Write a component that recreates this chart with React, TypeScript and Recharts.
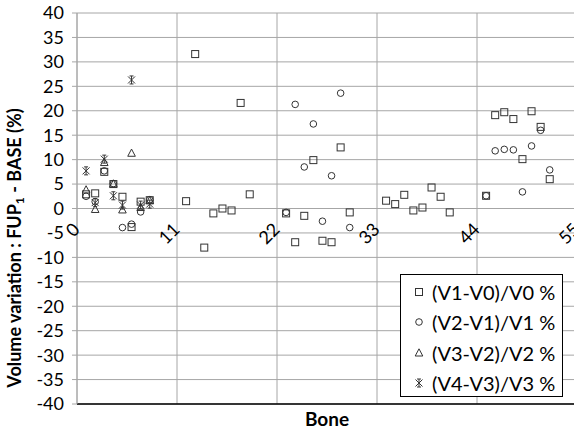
import React from 'react';
import { ScatterChart, Scatter, XAxis, YAxis, CartesianGrid } from 'recharts';

// ---------- data ----------
const xTicks = [0, 11, 22, 33, 44, 55];
const yTicks = [-40, -35, -30, -25, -20, -15, -10, -5, 0, 5, 10, 15, 20, 25, 30, 35, 40];

const seriesNames = ['(V1-V0)/V0 %', '(V2-V1)/V1 %', '(V3-V2)/V2 %', '(V4-V3)/V3 %'];

const s1Bones = [1, 2, 3, 4, 5, 6, 7, 8, 12, 13, 14, 15, 16, 17, 18, 19, 23, 24, 25, 26, 27, 28, 29, 30, 34, 35, 36, 37, 38, 39, 40, 41, 45, 46, 47, 48, 49, 50, 51, 52];
const s1Values = [2.9, 3.1, 7.5, 5.0, 2.4, -3.8, 1.4, 1.7, 1.5, 31.6, -8.0, -1.0, 0.0, -0.4, 21.6, 2.9, -1.0, -6.9, -1.5, 9.9, -6.6, -6.9, 12.5, -0.8, 1.6, 0.9, 2.8, -0.4, 0.2, 4.3, 2.4, -0.8, 2.6, 19.1, 19.7, 18.3, 10.1, 19.9, 16.7, 6.0];

const s2Bones = [1, 2, 3, 4, 5, 6, 7, 8, 23, 24, 25, 26, 27, 28, 29, 30, 45, 46, 47, 48, 49, 50, 51, 52];
const s2Values = [2.5, 1.4, 7.7, 5.1, -3.9, -3.2, -0.7, 1.8, -0.8, 21.3, 8.5, 17.3, -2.6, 6.7, 23.6, -3.9, 2.6, 11.8, 12.1, 12.0, 3.4, 12.8, 16.0, 7.9];

const s3Bones = [1, 2, 3, 4, 5, 6, 7, 8];
const s3Values = [3.8, -0.2, 9.4, 5.0, -0.3, 11.3, 0.2, 1.6];

const s4Bones = [1, 2, 3, 4, 5, 6, 7, 8];
const s4Values = [7.7, 1.2, 10.1, 2.6, 0.7, 26.3, 0.7, 0.9];

const toPoints = (bones: number[], values: number[]) => bones.map((b, i) => ({ bone: b, value: values[i] }));
const s1 = toPoints(s1Bones, s1Values);
const s2 = toPoints(s2Bones, s2Values);
const s3 = toPoints(s3Bones, s3Values);
const s4 = toPoints(s4Bones, s4Values);

// ---------- layout ----------
const CHART_W = 600;
const CHART_H = 433;
const PLOT_LEFT = 77;
const PLOT_TOP = 13;
const PLOT_BOTTOM = 404;
const PLOT_RIGHT = 577;
const Y_ZERO = PLOT_TOP + (PLOT_BOTTOM - PLOT_TOP) / 2;
const FONT = 'Lato, "Open Sans", sans-serif';
const MARK = '#333';
const GRID = '#a6a6a6';

// ---------- markers ----------
const SquareMark = ({ cx, cy }: any) => (
  <rect x={cx - 3.5} y={cy - 3.5} width={7} height={7} fill="none" stroke={MARK} strokeWidth={1} />
);
const CircleMark = ({ cx, cy }: any) => (
  <circle cx={cx} cy={cy} r={3.3} fill="none" stroke={MARK} strokeWidth={1} />
);
const TriangleMark = ({ cx, cy }: any) => (
  <polygon points={`${cx},${cy - 4.2} ${cx - 3.8},${cy + 3} ${cx + 3.8},${cy + 3}`} fill="none" stroke={MARK} strokeWidth={1} />
);
const StarMark = ({ cx, cy }: any) => (
  <path
    d={`M${cx},${cy - 4}L${cx},${cy + 4}M${cx - 3.5},${cy - 3.5}L${cx + 3.5},${cy + 3.5}M${cx + 3.5},${cy - 3.5}L${cx - 3.5},${cy + 3.5}M${cx - 2},${cy - 4}L${cx + 2},${cy - 4}M${cx - 2},${cy + 4}L${cx + 2},${cy + 4}`}
    fill="none"
    stroke={MARK}
    strokeWidth={1}
  />
);
const markers = [SquareMark, CircleMark, TriangleMark, StarMark];

// ---------- axis pieces ----------
const XTick = (props: any) => {
  const { x, payload } = props;
  const ax = x + 4;
  const ay = Y_ZERO + 22;
  return (
    <text x={ax} y={ay} textAnchor="end" fontFamily={FONT} fontSize={18} fill="#000" transform={`rotate(-45 ${ax} ${ay})`}>
      {payload.value}
    </text>
  );
};

const YTitle = () => {
  const cx = 16;
  const cy = 248;
  return (
    <text x={cx} y={cy} textAnchor="middle" dominantBaseline="middle" fontFamily={FONT} fontWeight="bold" fontSize={18} fill="#000" transform={`rotate(-90 ${cx} ${cy})`}>
      Volume variation : FUP<tspan fontSize={12} dy={5}>1</tspan><tspan dy={-5}> - BASE (%)</tspan>
    </text>
  );
};

const XTitle = () => (
  <text x={(PLOT_LEFT + PLOT_RIGHT) / 2} y={426} textAnchor="middle" fontFamily={FONT} fontWeight="bold" fontSize={19} fill="#000">
    Bone
  </text>
);

const LegendBox = () => (
  <div
    style={{
      position: 'absolute',
      left: 400,
      top: 274,
      width: 163,
      height: 123,
      border: '1.5px solid #000',
      background: '#fff',
      boxSizing: 'border-box',
      fontFamily: FONT,
      fontSize: 20,
      color: '#000',
    }}
  >
    {seriesNames.map((name, i) => {
      const M = markers[i];
      return (
        <div key={name} style={{ position: 'absolute', left: 0, top: 2 + i * 30.3, height: 30, display: 'flex', alignItems: 'center', whiteSpace: 'nowrap' }}>
          <svg width={30} height={30} style={{ display: 'block' }}>
            <M cx={18} cy={15} />
          </svg>
          <span style={{ marginLeft: 1 }}>{name}</span>
        </div>
      );
    })}
  </div>
);

export default function App() {
  return (
    <div style={{ position: 'absolute', left: 0, top: 0, width: 574, height: 433, overflow: 'hidden', background: '#fff' }}>
      <ScatterChart
        width={CHART_W}
        height={CHART_H}
        margin={{ top: PLOT_TOP, right: CHART_W - PLOT_RIGHT, bottom: 0, left: 0 }}
      >
        <CartesianGrid stroke={GRID} strokeWidth={1} />
        <XAxis
          type="number"
          dataKey="bone"
          domain={[0, 55]}
          ticks={xTicks}
          interval={0}
          height={CHART_H - PLOT_BOTTOM}
          axisLine={{ stroke: '#000', strokeWidth: 1.5 }}
          tickLine={false}
          tick={<XTick />}
          label={<XTitle />}
        />
        <YAxis
          type="number"
          dataKey="value"
          domain={[-40, 40]}
          ticks={yTicks}
          interval={0}
          width={PLOT_LEFT}
          axisLine={{ stroke: GRID }}
          tickLine={{ stroke: GRID }}
          tickSize={5}
          tickMargin={8}
          tick={{ fill: '#000', fontSize: 18, fontFamily: FONT }}
          label={<YTitle />}
        />
        <Scatter name={seriesNames[0]} data={s1} shape={SquareMark} isAnimationActive={false} />
        <Scatter name={seriesNames[1]} data={s2} shape={CircleMark} isAnimationActive={false} />
        <Scatter name={seriesNames[2]} data={s3} shape={TriangleMark} isAnimationActive={false} />
        <Scatter name={seriesNames[3]} data={s4} shape={StarMark} isAnimationActive={false} />
      </ScatterChart>
      <LegendBox />
    </div>
  );
}
